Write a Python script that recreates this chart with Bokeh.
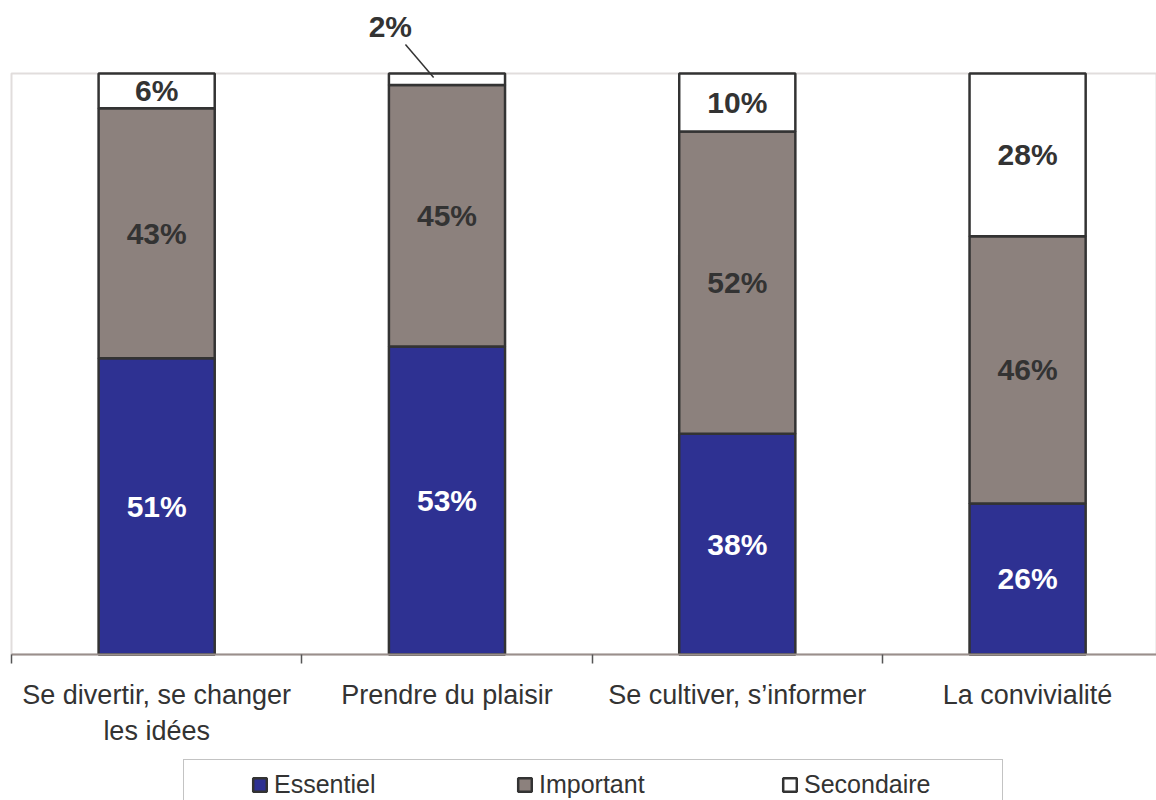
from bokeh.plotting import figure
from bokeh.models import (Range1d, FixedTicker, Legend, LegendItem, BoxAnnotation,
                          ColumnDataSource, Label, Arrow)
from bokeh.core.properties import value
from bokeh.embed import file_html
from bokeh.resources import INLINE

# ---- data ----
categories = ["Se divertir, se changer\nles idées", "Prendre du plaisir",
              "Se cultiver, s\u2019informer", "La convivialité"]
series = ["Essentiel", "Important", "Secondaire"]
essentiel = [51, 53, 38, 26]
important = [43, 45, 52, 46]
secondaire = [6, 2, 10, 28]

fill_colors = ["#2E3192", "#8C817D", "#FFFFFF"]
text_colors = ["#FFFFFF", "#333333", "#333333"]
FONT = "Liberation Sans"

xs = [i + 0.5 for i in range(len(categories))]
src = ColumnDataSource(dict(x=xs, Essentiel=essentiel, Important=important,
                            Secondaire=secondaire))

X_END = 3.944
p = figure(width=1156, height=800, output_backend="svg", toolbar_location=None,
           x_range=Range1d(-0.0379, X_END), y_range=Range1d(-25.13, 112.56),
           min_border_left=0, min_border_right=0, min_border_top=0,
           min_border_bottom=0)
p.grid.visible = False
p.outline_line_color = None
p.background_fill_color = "white"
p.border_fill_color = "white"

frame_col = "#9A8F8C"

p.yaxis.visible = False

# bottom axis, fixed at y = 0
xa = p.below[0]
xa.fixed_location = 0
xa.bounds = (0, X_END)
xa.ticker = FixedTicker(ticks=xs, minor_ticks=[float(i) for i in range(len(categories) + 1)])
xa.major_label_overrides = {x: c for x, c in zip(xs, categories)}
xa.axis_line_color = frame_col
xa.axis_line_width = 2
xa.major_tick_line_color = None
xa.major_tick_out = 0
xa.major_tick_in = 0
xa.minor_tick_line_color = "#555555"
xa.minor_tick_line_width = 1.5
xa.minor_tick_out = 9
xa.minor_tick_in = 0
xa.major_label_standoff = 17
xa.major_label_text_font = FONT
xa.major_label_text_font_size = "27px"
xa.major_label_text_color = "#333333"

# plot-area border (left + top)
p.add_layout(BoxAnnotation(left=0, bottom=0, top=100, fill_alpha=0,
                           line_color=frame_col, line_width=2, level="underlay"))

# bars
rs = p.vbar_stack(series, x="x", width=0.4, source=src, fill_color=fill_colors,
                  line_color="#333333", line_width=2.5)

# value labels
vals = [essentiel, important, secondaire]
lx, ly, lt, lc = [], [], [], []
out = []
for si, sv in enumerate(vals):
    for ci, v in enumerate(sv):
        base = sum(vals[k][ci] for k in range(si))
        if v < 5:
            out.append((ci, base + v, v, text_colors[si]))
            continue
        lx.append(xs[ci]); ly.append(base + v / 2); lt.append(f"{v}%"); lc.append(text_colors[si])
p.text(x=lx, y=ly, text=lt, text_color=lc, text_font=value(FONT), text_font_style="bold",
       text_font_size="30px", text_align="center", text_baseline="middle")

for ci, top, v, col in out:
    p.add_layout(Label(x=xs[ci] - 0.195, y=top + 8, text=f"{v}%", text_font=FONT,
                       text_font_style="bold", text_font_size="30px", text_color=col,
                       text_align="center", text_baseline="middle"))
    p.add_layout(Arrow(end=None, x_start=xs[ci] - 0.143, y_start=top + 5,
                       x_end=xs[ci] - 0.046, y_end=top - 0.7, line_color="#333333",
                       line_width=1.5))

legend = Legend(items=[LegendItem(label=s, renderers=[r]) for s, r in zip(series, rs)],
                orientation="horizontal", location=(183, -10), padding=10,
                spacing=54, label_width=188, glyph_width=17, glyph_height=17,
                label_standoff=6, label_text_font=FONT, label_text_font_size="25px",
                label_text_color="#333333", border_line_color="#888888",
                border_line_width=1.5, background_fill_color="white", margin=0,
                title=" ", title_location="left", title_standoff=56,
                title_text_font_size="1px")
p.add_layout(legend, "center")

open("out.html", "w").write(file_html(p, INLINE))
